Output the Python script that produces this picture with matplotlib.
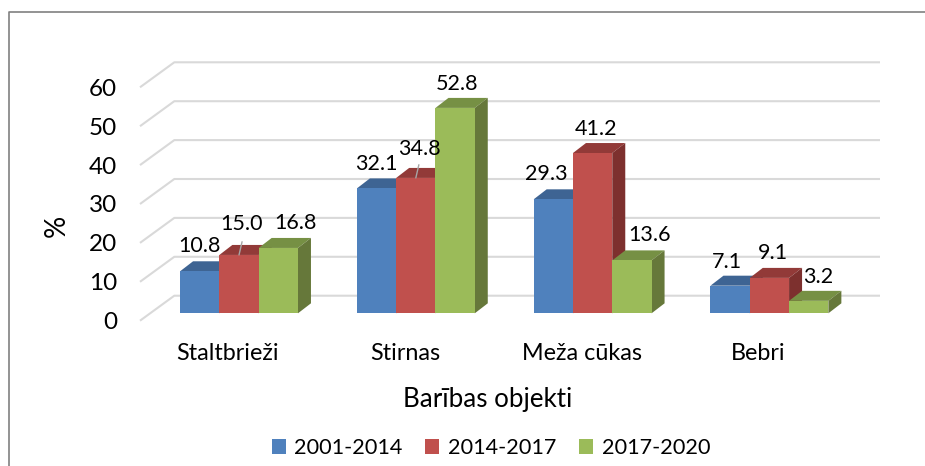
import matplotlib
matplotlib.use('Agg')
import matplotlib.pyplot as plt
from matplotlib.lines import Line2D
from matplotlib.patches import Polygon

categories = ['Staltbrieži', 'Stirnas', 'Meža cūkas', 'Bebri']
periods = ['2001-2014', '2014-2017', '2017-2020']
values_2001 = [10.8, 32.1, 29.3, 7.1]
values_2014 = [15.0, 34.8, 41.2, 9.1]
values_2017 = [16.8, 52.8, 13.6, 3.2]
y_ticks = [0, 10, 20, 30, 40, 50, 60]

WIDTH, HEIGHT = 925, 466
PX_Y = 3.89  # pixels per percent
PX_X = 176.8  # pixels per category
BAR_W = 39.3 / PX_X
DEPTH_X, DEPTH_Y = 13 / PX_X, 10 / PX_Y  # bar depth in data units
FRONT_Y = 7.4 / PX_Y  # bar plane to front of floor
BACK_Y = 17.6 / PX_Y  # bar plane to back wall

front = ['#4F81BD', '#C0504D', '#9BBB59']
top = ['#3E6493', '#923A38', '#769044']
side = ['#2F4D71', '#7D302E', '#66783A']

# label offsets from bar front top centre, pixels
label_off = [[(0, 25), (3, 31), (17, 25)],
             [(0, 24), (4, 29), (2, 24)],
             [(-7, 25), (3, 24), (18, 25)],
             [(-3, 24), (4, 25), (9, 24)]]

plt.rcParams['font.family'] = ['Lato', 'DejaVu Sans']

fig = plt.figure(figsize=(WIDTH / 100, HEIGHT / 100), dpi=100)
ax = fig.add_axes([0, 0, 1, 1])
ax.set_xlim(-239 / PX_X, (WIDTH - 239) / PX_X)
ax.set_ylim(-(HEIGHT - 313.3) / PX_Y, 313.3 / PX_Y)
ax.patch.set_alpha(0)
for s in ax.spines.values():
    s.set_visible(False)

x_front = -(239 - 140) / PX_X
x_back = -(239 - 174.3) / PX_X
x_end = (880 - 239) / PX_X
for v in y_ticks:
    # wall gridline and its run across the side wall
    ax.plot([x_front, x_back, x_end], [v - FRONT_Y, v + BACK_Y, v + BACK_Y],
            color='#D9D9D9', lw=1.5, zorder=1, solid_capstyle='butt')

series = [values_2001, values_2014, values_2017]
for s_idx, vals in enumerate(series):
    for c_idx, v in enumerate(vals):
        x0 = c_idx - 1 / 3 + s_idx * BAR_W
        x1 = x0 + BAR_W
        z = 3 + s_idx + c_idx * 4
        ax.bar(x0, v, BAR_W, align='edge', color=front[s_idx], zorder=z + 0.3,
               label=periods[s_idx] if c_idx == 0 else None)
        ax.add_patch(Polygon([(x0, v), (x1, v), (x1 + DEPTH_X, v + DEPTH_Y), (x0 + DEPTH_X, v + DEPTH_Y)],
                             facecolor=top[s_idx], edgecolor='none', zorder=z))
        ax.add_patch(Polygon([(x1, 0), (x1, v), (x1 + DEPTH_X, v + DEPTH_Y), (x1 + DEPTH_X, DEPTH_Y)],
                             facecolor=side[s_idx], edgecolor='none', zorder=z))
        dx, dy = label_off[c_idx][s_idx]
        ax.annotate('%.1f' % v, (x0 + BAR_W / 2, v), xytext=(dx * 0.72, dy * 0.72),
                    textcoords='offset points', ha='center', va='center',
                    fontsize=15.5, color='black', zorder=30)
        if v in (15.0, 34.8):
            ax.annotate('', (x0 + BAR_W / 2, v), xytext=(2.2, 9.5), textcoords='offset points',
                        arrowprops=dict(arrowstyle='-', color='#A6A6A6', lw=1, shrinkA=0, shrinkB=0),
                        zorder=31)

# tick labels sit inside the full-figure axes, hence the negative pads
ax.set_yticks([v - FRONT_Y for v in y_ticks])
ax.set_yticklabels([str(v) for v in y_ticks], fontsize=17.5)
ax.set_xticks([i - 11 / PX_X for i in range(len(categories))])
ax.set_xticklabels(categories, fontsize=16.8)
ax.tick_params(axis='y', length=0, pad=-117 * 0.72)
ax.tick_params(axis='x', length=0, pad=-(HEIGHT - 343) * 0.72)

fig.text(488 / WIDTH, 1 - 399 / HEIGHT, 'Barības objekti', ha='center', va='center', fontsize=18.7)
fig.text(57 / WIDTH, 1 - 226 / HEIGHT, '%', rotation=90, ha='center', va='center', fontsize=20)

handles, labels = ax.get_legend_handles_labels()
fig.legend(handles, labels, loc='center', bbox_to_anchor=(491 / WIDTH, 1 - 448 / HEIGHT), ncol=3,
           frameon=False, fontsize=15.6, handlelength=0.65, handleheight=0.65,
           handletextpad=0.4, columnspacing=1.04)

# chart frame, cropped on the right and at the bottom
frame_x = 8.5 / WIDTH
frame_y = 1 - 11.5 / HEIGHT
fig.add_artist(Line2D([frame_x, frame_x, 1], [0, frame_y, frame_y], transform=fig.transFigure,
                      color='#808080', lw=1.2))

fig.savefig('out.png', dpi=100)
